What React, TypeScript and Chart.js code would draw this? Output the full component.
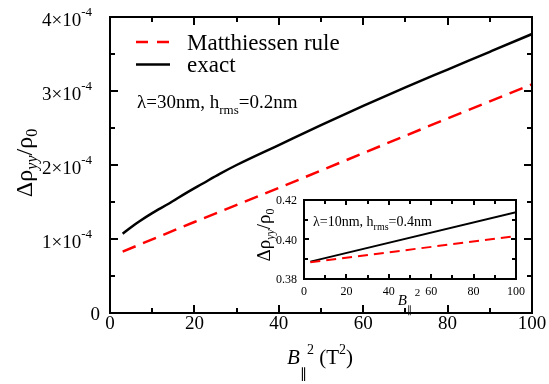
import React, { useEffect, useRef } from 'react';
import { Chart, registerables } from 'chart.js';

Chart.register(...registerables);

// ---------- data (main panel) ----------
const exactX = [3, 5, 7, 10, 14, 18, 22, 26, 30, 40, 50, 60, 70, 80, 90, 100];
const exactY = [1.07e-4, 1.16e-4, 1.24e-4, 1.35e-4, 1.48e-4, 1.62e-4, 1.75e-4, 1.88e-4, 2.0e-4, 2.27e-4, 2.54e-4, 2.8e-4, 3.05e-4, 3.29e-4, 3.53e-4, 3.77e-4];
const matthX = [3, 20, 40, 60, 80, 100];
const matthY = [0.83e-4, 1.23e-4, 1.69e-4, 2.16e-4, 2.63e-4, 3.09e-4];

// ---------- data (inset) ----------
const insetX = [3, 100];
const insetExact = [0.3888, 0.4138];
const insetMatth = [0.3885, 0.4017];

// ---------- ticks / labels ----------
const xMajor = [0, 20, 40, 60, 80, 100];
const xMinor = [10, 30, 50, 70, 90];
const yMajor = [0, 1e-4, 2e-4, 3e-4, 4e-4];
const yMantissa = ['0', '1×10', '2×10', '3×10', '4×10'];
const yExponent = ['', '-4', '-4', '-4', '-4'];
const yMinor = [0.5e-4, 1.5e-4, 2.5e-4, 3.5e-4];

const insetXMajor = [0, 20, 40, 60, 80, 100];
const insetXMinor = [10, 30, 50, 70, 90];
const insetYMajor = [0.38, 0.4, 0.42];
const insetYLabels = ['0.38', '0.40', '0.42'];
const insetYMinor = [0.39, 0.41];

const legendLabels = ['Matthiessen rule', 'exact'];
const RED = '#ff0000';
const BLACK = '#000000';
const FONT = "'Liberation Serif', 'Times New Roman', serif";

type Part = { t: string; size: number; italic?: boolean; dy?: number };

function drawParts(ctx: CanvasRenderingContext2D, parts: Part[], x: number, y: number, align: 'left' | 'center' | 'right') {
  let total = 0;
  const widths = parts.map((p) => {
    ctx.font = `${p.italic ? 'italic ' : ''}${p.size}px ${FONT}`;
    const w = ctx.measureText(p.t).width;
    total += w;
    return w;
  });
  let cx = align === 'left' ? x : align === 'center' ? x - total / 2 : x - total;
  ctx.textAlign = 'left';
  ctx.textBaseline = 'alphabetic';
  parts.forEach((p, i) => {
    ctx.font = `${p.italic ? 'italic ' : ''}${p.size}px ${FONT}`;
    ctx.fillText(p.t, cx, y + (p.dy || 0));
    cx += widths[i];
  });
}

function toPts(xs: number[], ys: number[]) {
  return xs.map((x, i) => ({ x, y: ys[i] }));
}

function drawFrameTicks(
  chart: any,
  xMaj: number[], xMin: number[], yMaj: number[], yMin: number[],
  lw: number, majLen: number, minLen: number
) {
  const ctx: CanvasRenderingContext2D = chart.ctx;
  const { left, right, top, bottom } = chart.chartArea;
  const xs = chart.scales.x;
  const ys = chart.scales.y;
  ctx.save();
  ctx.strokeStyle = BLACK;
  ctx.lineWidth = lw;
  ctx.lineCap = 'butt';
  ctx.beginPath();
  const tickX = (v: number, len: number) => {
    const px = Math.round(xs.getPixelForValue(v));
    ctx.moveTo(px, bottom); ctx.lineTo(px, bottom - len);
    ctx.moveTo(px, top); ctx.lineTo(px, top + len);
  };
  const tickY = (v: number, len: number) => {
    const py = Math.round(ys.getPixelForValue(v));
    ctx.moveTo(left, py); ctx.lineTo(left + len, py);
    ctx.moveTo(right, py); ctx.lineTo(right - len, py);
  };
  xMaj.forEach((v) => tickX(v, majLen));
  xMin.forEach((v) => tickX(v, minLen));
  yMaj.forEach((v) => tickY(v, majLen));
  yMin.forEach((v) => tickY(v, minLen));
  ctx.stroke();
  ctx.strokeRect(left, top, right - left, bottom - top);
  ctx.restore();
}

const mainPlugin = {
  id: 'mainDecor',
  afterDraw(chart: any) {
    const ctx: CanvasRenderingContext2D = chart.ctx;
    const { left, bottom } = chart.chartArea;
    const xs = chart.scales.x;
    const ys = chart.scales.y;
    drawFrameTicks(chart, xMajor, xMinor, yMajor, yMinor, 2, 8, 5);
    ctx.save();
    ctx.fillStyle = BLACK;
    // x tick labels
    ctx.font = `19px ${FONT}`;
    ctx.textAlign = 'center';
    ctx.textBaseline = 'alphabetic';
    xMajor.forEach((v) => {
      ctx.fillText(String(v), xs.getPixelForValue(v), bottom + 16);
    });
    // y tick labels
    yMajor.forEach((v, i) => {
      const py = ys.getPixelForValue(v);
      if (!yExponent[i]) {
        ctx.font = `19px ${FONT}`;
        ctx.textAlign = 'right';
        ctx.fillText(yMantissa[i], left - 10, py + 7);
      } else {
        ctx.font = `13px ${FONT}`;
        const ew = ctx.measureText(yExponent[i]).width;
        const rightEdge = left - 18;
        ctx.textAlign = 'left';
        ctx.fillText(yExponent[i], rightEdge - ew, py - 1);
        ctx.font = `19px ${FONT}`;
        ctx.textAlign = 'right';
        ctx.fillText(yMantissa[i], rightEdge - ew, py + 9);
      }
    });
    // x title
    drawParts(ctx, [
      { t: 'B', size: 21, italic: true },
      { t: '∥', size: 14, dy: 14 },
      { t: '2', size: 14, dy: -10 },
      { t: ' (T', size: 21 },
      { t: '2', size: 14, dy: -10 },
      { t: ')', size: 21 },
    ], 320, 364, 'center');
    // y title (rotated)
    ctx.save();
    ctx.translate(24, 163);
    ctx.rotate(-Math.PI / 2);
    drawParts(ctx, [
      { t: 'Δρ', size: 24 },
      { t: 'yy', size: 16, italic: true, dy: 5 },
      { t: '/ρ', size: 24 },
      { t: '0', size: 16, dy: 5 },
    ], 0, 8, 'center');
    ctx.restore();
    // legend
    ctx.lineWidth = 2.5;
    ctx.strokeStyle = RED;
    ctx.setLineDash([12, 9]);
    ctx.beginPath();
    ctx.moveTo(136, 42); ctx.lineTo(170, 42);
    ctx.stroke();
    ctx.setLineDash([]);
    ctx.strokeStyle = BLACK;
    ctx.beginPath();
    ctx.moveTo(136, 64.5); ctx.lineTo(170, 64.5);
    ctx.stroke();
    ctx.font = `23px ${FONT}`;
    ctx.textAlign = 'left';
    ctx.fillText(legendLabels[0], 187, 50);
    ctx.fillText(legendLabels[1], 187, 72);
    // annotation
    drawParts(ctx, [
      { t: 'λ=30nm, h', size: 19 },
      { t: 'rms', size: 13, dy: 6 },
      { t: '=0.2nm', size: 19 },
    ], 137, 108, 'left');
    ctx.restore();
  },
};

const insetPlugin = {
  id: 'insetDecor',
  afterDraw(chart: any) {
    const ctx: CanvasRenderingContext2D = chart.ctx;
    const { left, bottom } = chart.chartArea;
    const xs = chart.scales.x;
    const ys = chart.scales.y;
    drawFrameTicks(chart, insetXMajor, insetXMinor, insetYMajor, insetYMinor, 2, 5, 4);
    ctx.save();
    ctx.fillStyle = BLACK;
    ctx.font = `12px ${FONT}`;
    ctx.textAlign = 'center';
    ctx.textBaseline = 'alphabetic';
    insetXMajor.forEach((v) => {
      ctx.fillText(String(v), xs.getPixelForValue(v), bottom + 16);
    });
    ctx.textAlign = 'right';
    insetYMajor.forEach((v, i) => {
      ctx.fillText(insetYLabels[i], left - 7, ys.getPixelForValue(v) + 4);
    });
    // x title
    drawParts(ctx, [
      { t: 'B', size: 15, italic: true },
      { t: '∥', size: 10, dy: 8 },
      { t: ' 2', size: 11, dy: -9 },
    ], 409, 305, 'center');
    // y title
    ctx.save();
    ctx.translate(265, 235);
    ctx.rotate(-Math.PI / 2);
    drawParts(ctx, [
      { t: 'Δρ', size: 19 },
      { t: 'yy', size: 12, italic: true, dy: 4 },
      { t: '/ρ', size: 19 },
      { t: '0', size: 12, dy: 4 },
    ], 0, 5, 'center');
    ctx.restore();
    // annotation
    drawParts(ctx, [
      { t: 'λ=10nm, h', size: 14 },
      { t: 'rms', size: 10, dy: 4 },
      { t: '=0.4nm', size: 14 },
    ], 313, 226, 'left');
    ctx.restore();
  },
};

export default function App() {
  const mainRef = useRef<HTMLCanvasElement>(null);
  const insetRef = useRef<HTMLCanvasElement>(null);

  useEffect(() => {
    document.body.style.margin = '0';
    const hiddenScales = (xmin: number, xmax: number, ymin: number, ymax: number) => ({
      x: { type: 'linear' as const, min: xmin, max: xmax, display: false },
      y: { type: 'linear' as const, min: ymin, max: ymax, display: false },
    });

    const main = new Chart(mainRef.current!, {
      type: 'line',
      data: {
        datasets: [
          {
            label: legendLabels[0],
            data: toPts(matthX, matthY),
            borderColor: RED,
            borderWidth: 2.5,
            borderDash: [14, 8],
            pointRadius: 0,
            tension: 0,
            fill: false,
          },
          {
            label: legendLabels[1],
            data: toPts(exactX, exactY),
            borderColor: BLACK,
            borderWidth: 2.5,
            pointRadius: 0,
            cubicInterpolationMode: 'monotone',
            fill: false,
          },
        ],
      },
      options: {
        responsive: false,
        animation: false,
        devicePixelRatio: 1,
        layout: { padding: { left: 110, right: 17, top: 17, bottom: 71 } },
        scales: hiddenScales(0, 100, 0, 4e-4),
        plugins: { legend: { display: false }, tooltip: { enabled: false } },
        events: [],
      },
      plugins: [mainPlugin],
    });

    const inset = new Chart(insetRef.current!, {
      type: 'line',
      data: {
        datasets: [
          {
            label: legendLabels[0],
            data: toPts(insetX, insetMatth),
            borderColor: RED,
            borderWidth: 2,
            borderDash: [10, 6],
            pointRadius: 0,
            fill: false,
          },
          {
            label: legendLabels[1],
            data: toPts(insetX, insetExact),
            borderColor: BLACK,
            borderWidth: 1.8,
            pointRadius: 0,
            fill: false,
          },
        ],
      },
      options: {
        responsive: false,
        animation: false,
        devicePixelRatio: 1,
        layout: { padding: { left: 304, right: 33, top: 200, bottom: 105 } },
        scales: hiddenScales(0, 100, 0.38, 0.42),
        plugins: { legend: { display: false }, tooltip: { enabled: false } },
        events: [],
      },
      plugins: [insetPlugin],
    });

    return () => {
      main.destroy();
      inset.destroy();
    };
  }, []);

  return (
    <div style={{ position: 'relative', width: 549, height: 384, background: '#fff' }}>
      <canvas ref={mainRef} width={549} height={384} style={{ position: 'absolute', left: 0, top: 0 }} />
      <canvas ref={insetRef} width={549} height={384} style={{ position: 'absolute', left: 0, top: 0, pointerEvents: 'none' }} />
    </div>
  );
}
